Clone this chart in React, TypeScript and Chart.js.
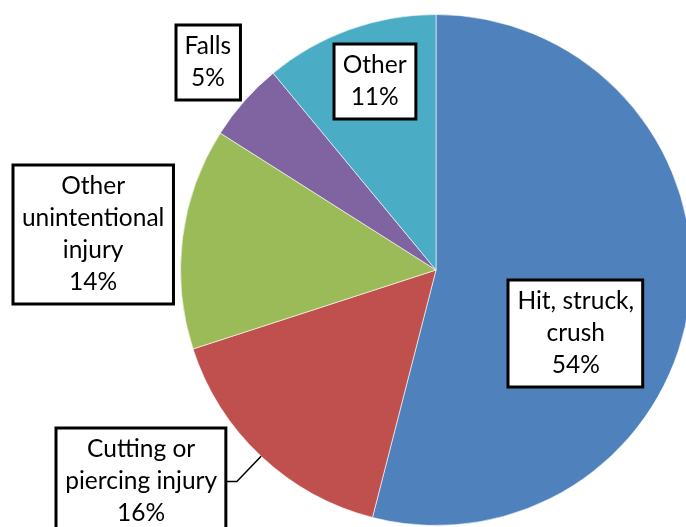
import React, { useEffect, useRef } from "react";
import { Chart, registerables } from "chart.js";

Chart.register(...registerables);

// ---- data ----
const categories = [
  "Hit, struck, crush",
  "Cutting or piercing injury",
  "Other unintentional injury",
  "Falls",
  "Other",
];
const values = [54, 16, 14, 5, 11];
const labelLines = [
  ["Hit, struck,", "crush"],
  ["Cutting or", "piercing injury"],
  ["Other", "unintentional", "injury"],
  ["Falls"],
  ["Other"],
];
const colors = ["#4F81BD", "#C0504D", "#9BBB59", "#8064A2", "#4BACC6"];

// ---- label placement (relative to pie centre, in units of radius) ----
const labelOffsets: number[][] = [
  [0.547, 0.25],
  [-1.154, 0.828],
  [-1.342, -0.139],
  [-0.893, -0.811],
  [-0.24, -0.736],
];
const leaderLines = [false, true, false, false, false];

const FONT = "24.5px Lato";
const LINE_H = 32;
const PAD_X = 9;
const PAD_Y = 5.5;

const labelPlugin = {
  id: "boxLabels",
  afterDatasetsDraw(chart: any) {
    const ctx = chart.ctx as CanvasRenderingContext2D;
    const meta = chart.getDatasetMeta(0);
    const data = chart.data.datasets[0].data as number[];
    const total = data.reduce((a, b) => a + b, 0);
    ctx.save();
    ctx.font = FONT;
    meta.data.forEach((arc: any, i: number) => {
      const { x, y, outerRadius, startAngle, endAngle } = arc.getProps(
        ["x", "y", "outerRadius", "startAngle", "endAngle"],
        true
      );
      const lines = [...labelLines[i], `${Math.round((data[i] / total) * 100)}%`];
      const w = Math.max(...lines.map((l) => ctx.measureText(l).width)) + PAD_X * 2;
      const h = lines.length * LINE_H + PAD_Y * 2;
      const cx = x + labelOffsets[i][0] * outerRadius;
      const cy = y + labelOffsets[i][1] * outerRadius;
      const left = Math.round(cx - w / 2);
      const top = Math.round(cy - h / 2);

      if (leaderLines[i]) {
        const mid = (startAngle + endAngle) / 2;
        const px = x + Math.cos(mid) * outerRadius;
        const py = y + Math.sin(mid) * outerRadius;
        const bx = left + w;
        const by = cy;
        ctx.beginPath();
        ctx.strokeStyle = "#000";
        ctx.lineWidth = 1.5;
        ctx.moveTo(bx, by);
        ctx.lineTo(bx + 11, by);
        ctx.lineTo(px, py);
        ctx.stroke();
      }

      ctx.fillStyle = "#fff";
      ctx.fillRect(left, top, w, h);
      ctx.strokeStyle = "#000";
      ctx.lineWidth = 3;
      ctx.strokeRect(left, top, w, h);

      ctx.fillStyle = "#000";
      ctx.textAlign = "center";
      ctx.textBaseline = "middle";
      lines.forEach((l, k) => {
        ctx.fillText(l, cx, top + PAD_Y + LINE_H * (k + 0.5));
      });
    });
    ctx.restore();
  },
};

export default function App() {
  const ref = useRef<HTMLCanvasElement | null>(null);
  useEffect(() => {
    if (!ref.current) return;
    const chart = new Chart(ref.current, {
      type: "pie",
      data: {
        labels: categories,
        datasets: [
          {
            data: values,
            backgroundColor: colors,
            borderColor: "rgba(255,255,255,0.6)",
            borderWidth: 1,
          },
        ],
      },
      options: {
        responsive: false,
        animation: false,
        layout: { padding: { top: 14, bottom: 14, left: 0, right: 0 } },
        plugins: {
          legend: { display: false },
          tooltip: { enabled: false },
        },
      },
      plugins: [labelPlugin],
    });
    return () => chart.destroy();
  }, []);
  return (
    <div
      style={{
        position: "fixed",
        left: 0,
        top: 0,
        width: 686,
        height: 527,
        overflow: "hidden",
        background: "#fff",
      }}
    >
      <canvas ref={ref} width={872} height={540} style={{ display: "block" }} />
    </div>
  );
}
